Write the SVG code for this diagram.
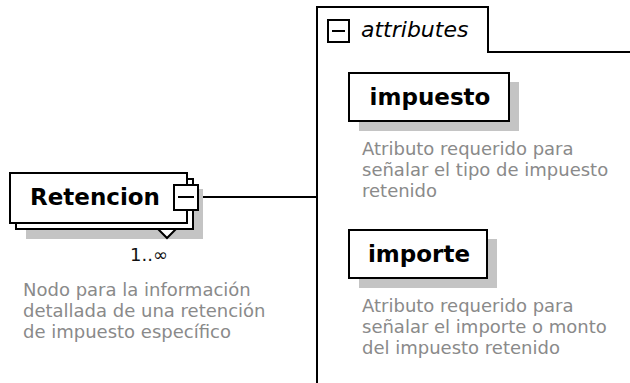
<svg xmlns="http://www.w3.org/2000/svg" width="630" height="383" viewBox="0 0 630 383">
<style>
.box{fill:#fff;stroke:#000;stroke-width:2}
.shadow{fill:#c4c4c4}
.line{fill:none;stroke:#000;stroke-width:2}
.name{font-family:"DejaVu Sans",sans-serif;font-weight:bold;font-size:23px;fill:#000;text-anchor:middle}
.desc{font-family:"DejaVu Sans",sans-serif;font-size:18px;fill:#8a8a8a}
.occ{font-family:"DejaVu Sans",sans-serif;font-size:18px;fill:#111}
.grp{font-family:"DejaVu Sans",sans-serif;font-style:italic;font-size:22px;fill:#000}
</style>
<rect width="630" height="383" fill="#fff"/>
<g id="connectors">
<line class="line" x1="198" y1="197" x2="317" y2="197"/>
</g>
<g id="attributes">
<path class="line" d="M317,383 V7 H488 V52 H630"/>
<rect class="box" x="328" y="20" width="21" height="22"/>
<line class="line" x1="332" y1="31" x2="345" y2="31"/>
<text class="grp" x="361" y="37">attributes</text>
</g>
<g id="Retencion">
<rect class="shadow" x="26" y="189" width="177" height="50"/>
<rect class="box" x="16" y="179" width="177" height="50"/>
<rect class="box" x="10" y="173" width="177" height="50"/>
<polygon class="box" points="158,229 176,229 167,238"/>
<text class="name" x="95" y="205">Retencion</text>
<rect class="box" x="174" y="185" width="24" height="25"/>
<line class="line" x1="178" y1="197" x2="194" y2="197"/>
<text class="occ" x="130" y="261">1..∞</text>
<text class="desc" x="23" y="296">Nodo para la información</text>
<text class="desc" x="23" y="317">detallada de una retención</text>
<text class="desc" x="23" y="338">de impuesto específico</text>
</g>
<g id="impuesto">
<rect class="shadow" x="359" y="82" width="160" height="49"/>
<rect class="box" x="349" y="73" width="160" height="48"/>
<text class="name" x="430" y="105">impuesto</text>
<text class="desc" x="362" y="155">Atributo requerido para</text>
<text class="desc" x="362" y="176">señalar el tipo de impuesto</text>
<text class="desc" x="362" y="197">retenido</text>
</g>
<g id="importe">
<rect class="shadow" x="359" y="239" width="138" height="49"/>
<rect class="box" x="349" y="230" width="138" height="48"/>
<text class="name" x="419" y="262">importe</text>
<text class="desc" x="362" y="312">Atributo requerido para</text>
<text class="desc" x="362" y="333">señalar el importe o monto</text>
<text class="desc" x="362" y="354">del impuesto retenido</text>
</g>
</svg>
